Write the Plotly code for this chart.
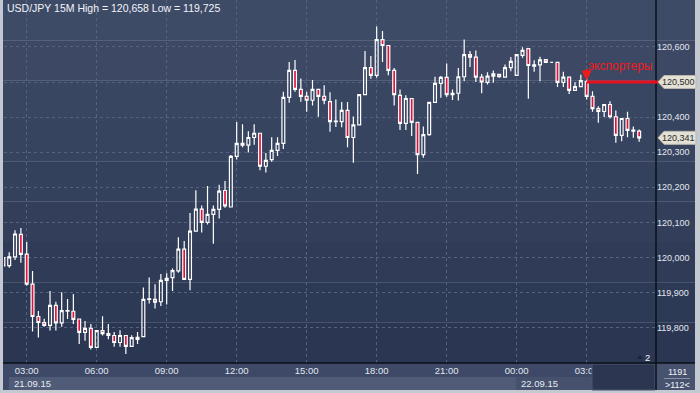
import pandas as pd
import plotly.graph_objects as go

# ---------------- data ----------------
start_time = "2015-09-21 02:00"
opens = [120.000,119.977,120.002,120.066,120.010,119.924,119.832,119.815,119.807,119.864,
         119.814,119.847,119.847,119.825,119.787,119.798,119.744,119.792,119.783,119.778,
         119.758,119.778,119.747,119.767,119.775,119.881,119.881,119.874,119.935,119.943,
         119.962,120.024,119.938,120.075,120.138,120.100,120.123,120.137,120.191,120.144,
         120.288,120.325,120.320,120.342,120.354,120.260,120.279,120.305,120.325,120.456,
         120.533,120.479,120.459,120.448,120.479,120.459,120.444,120.387,120.387,120.419,
         120.342,120.378,120.464,120.541,120.519,120.621,120.604,120.533,120.462,120.382,
         120.453,120.385,120.293,120.350,120.442,120.496,120.513,120.464,120.468,120.515,
         120.578,120.571,120.514,120.499,120.517,120.522,120.514,120.541,120.519,120.576,
         120.595,120.545,120.549,120.564,120.556,120.556,120.499,120.514,120.476,120.487,
         120.501,120.459,120.424,120.416,120.436,120.401,120.348,120.396,120.360,120.360]
highs = [120.003,120.015,120.078,120.084,120.044,119.962,119.848,119.826,119.905,119.874,
         119.901,119.882,119.896,119.826,119.819,119.811,119.792,119.833,119.811,119.788,
         119.793,119.779,119.779,119.788,119.915,119.943,119.924,119.953,119.955,119.969,
         120.058,120.047,120.127,120.192,120.148,120.204,120.148,120.207,120.218,120.292,
         120.386,120.380,120.360,120.380,120.355,120.298,120.343,120.343,120.472,120.557,
         120.563,120.510,120.472,120.506,120.480,120.491,120.471,120.450,120.443,120.443,
         120.402,120.465,120.588,120.574,120.658,120.645,120.605,120.540,120.479,120.462,
         120.454,120.385,120.373,120.442,120.515,120.517,120.553,120.479,120.540,120.621,
         120.588,120.590,120.523,120.528,120.533,120.523,120.550,120.571,120.578,120.599,
         120.596,120.562,120.572,120.564,120.556,120.556,120.529,120.514,120.499,120.521,
         120.517,120.474,120.431,120.436,120.445,120.419,120.396,120.415,120.373,120.365]
lows = [119.973,119.971,119.993,119.985,119.920,119.789,119.772,119.803,119.792,119.792,
        119.803,119.825,119.811,119.754,119.763,119.738,119.744,119.778,119.767,119.746,
        119.746,119.725,119.747,119.754,119.775,119.869,119.855,119.862,119.866,119.905,
        119.957,119.936,119.907,120.075,120.071,120.094,120.039,120.111,120.142,120.144,
        120.279,120.314,120.299,120.321,120.249,120.242,120.273,120.289,120.309,120.441,
        120.472,120.444,120.415,120.433,120.401,120.437,120.358,120.372,120.371,120.314,
        120.270,120.377,120.464,120.509,120.512,120.557,120.519,120.433,120.363,120.363,
        120.346,120.238,120.284,120.347,120.442,120.455,120.457,120.449,120.447,120.502,
        120.543,120.500,120.468,120.493,120.498,120.512,120.512,120.531,120.519,120.569,
        120.452,120.529,120.502,120.554,120.556,120.486,120.486,120.466,120.476,120.487,
        120.450,120.415,120.384,120.400,120.396,120.327,120.331,120.343,120.341,120.330]
closes = [119.976,120.002,120.067,120.009,119.924,119.832,119.815,119.807,119.864,119.814,
          119.849,119.849,119.824,119.787,119.798,119.744,119.792,119.783,119.778,119.758,
          119.778,119.747,119.772,119.773,119.881,119.882,119.873,119.935,119.941,119.963,
          120.024,119.938,120.075,120.138,120.100,120.123,120.137,120.189,120.147,120.288,
          120.325,120.320,120.342,120.354,120.260,120.277,120.305,120.325,120.456,120.533,
          120.479,120.459,120.448,120.479,120.459,120.448,120.387,120.389,120.419,120.342,
          120.378,120.464,120.541,120.519,120.621,120.604,120.533,120.464,120.382,120.453,
          120.385,120.293,120.350,120.442,120.496,120.513,120.464,120.468,120.515,120.578,
          120.571,120.514,120.500,120.517,120.523,120.515,120.541,120.559,120.578,120.590,
          120.547,120.549,120.563,120.556,120.556,120.499,120.514,120.476,120.487,120.504,
          120.459,120.424,120.416,120.436,120.401,120.348,120.396,120.362,120.363,120.341]
times = pd.date_range(start_time, periods=len(opens), freq="15min")

y_tick_vals = [119.8, 119.9, 120.0, 120.1, 120.2, 120.3, 120.4, 120.5, 120.6]
y_tick_text = ["119,800", "119,900", "120,000", "120,100", "120,200", "120,300",
               "120,400", "120,500", "120,600"]
x_tick_vals = ["2015-09-21 03:00", "2015-09-21 06:00", "2015-09-21 09:00", "2015-09-21 12:00",
               "2015-09-21 15:00", "2015-09-21 18:00", "2015-09-21 21:00", "2015-09-22 00:00",
               "2015-09-22 03:00"]
x_tick_text = ["03:00", "06:00", "09:00", "12:00", "15:00", "18:00", "21:00", "00:00", "03:00"]
date_labels = ["21.09.15", "22.09.15"]
title_text = "USD/JPY 15M High = 120,658 Low = 119,725"
level_price = 120.500
level_label = "экспортеры"
level_time = "2015-09-22 03:00"
last_price = 120.341
last_label = "120,341"
bar_count_text = "1191"
zoom_text = ">112<"

# ---------------- layout helpers ----------------
W, H = 700, 393
L, R, T, B = 4, 656, 0, 363
Y_RANGE = [119.6996, 120.7336]
FONT = "Liberation Sans"


def px(x):
    return (x - L) / (R - L)


def py(y):
    return (B - y) / (B - T)


ppu = (B - T) / (Y_RANGE[1] - Y_RANGE[0])  # pixels per price unit
shapes = []


def rect(x0, y0, x1, y1, color, layer="below", line=None):
    shapes.append(dict(type="rect", xref="paper", yref="paper", x0=px(x0), x1=px(x1),
                       y0=py(y1), y1=py(y0), fillcolor=color,
                       line=line or dict(width=0), layer=layer))


# gradient background (banded)
top_c = (62, 75, 103)
bot_c = (43, 55, 82)
nb = 9
for i in range(nb):
    t = i / (nb - 1)
    c = tuple(round(top_c[j] + (bot_c[j] - top_c[j]) * t) for j in range(3))
    rect(3, i * B / nb, 695, (i + 1) * B / nb, "rgb(%d,%d,%d)" % c)

# bottom axis area
rect(3, 363, 695, 390, "#3d4966")
rect(9, 377, 516, 390, "#4f5b77")
rect(516, 377, 592, 390, "#45516d")
rect(656, 363, 695, 390, "#46526e")
rect(592, 364, 655, 390, "#2c3650", layer="above",
     line=dict(color="#4a5672", width=1))
# separators
shapes.append(dict(type="line", xref="paper", yref="paper", x0=px(3), x1=px(695),
                   y0=py(363), y1=py(363), line=dict(color="#0b0f18", width=1.5), layer="above"))
shapes.append(dict(type="line", xref="paper", yref="paper", x0=px(656), x1=px(656),
                   y0=py(0), y1=py(390), line=dict(color="#0b0f18", width=1.5), layer="above"))
shapes.append(dict(type="line", xref="paper", yref="paper", x0=px(664), x1=px(690),
                   y0=py(378.5), y1=py(378.5), line=dict(color="#8891a5", width=1), layer="above"))
# small triangle near "2"
shapes.append(dict(type="path", xref="paper", yref="paper",
                   path="M %f,%f L %f,%f L %f,%f Z" % (px(637), py(359), px(643), py(359), px(640), py(355)),
                   fillcolor="#1e2638", line=dict(width=0), layer="above"))

# level line
x1_range = pd.Timestamp("2015-09-21 03:00") + pd.Timedelta(minutes=15 * (R - 26.7) / 5.833)
x0_range = pd.Timestamp("2015-09-21 03:00") - pd.Timedelta(minutes=15 * (26.7 - L) / 5.833)
shapes.append(dict(type="line", xref="x", yref="y", x0=level_time, x1=x1_range,
                   y0=level_price, y1=level_price, line=dict(color="#e8101e", width=3),
                   layer="above"))
shapes.append(dict(type="line", xref="paper", yref="y", x0=px(654), x1=px(661),
                   y0=level_price, y1=level_price, line=dict(color="#e8101e", width=3),
                   layer="above"))

annotations = []
# price tags
for p, txt in [(level_price, y_tick_text[y_tick_vals.index(level_price)]), (last_price, last_label)]:
    h = 6.5 / ppu
    path = "M %f,%f L %f,%f L %f,%f L %f,%f L %f,%f Z" % (
        px(658), p, px(664), p + h, px(696), p + h, px(696), p - h, px(664), p - h)
    shapes.append(dict(type="path", xref="paper", yref="y", path=path,
                       fillcolor="#e3e1d5", line=dict(color="#b9b7ab", width=1), layer="above"))
    annotations.append(dict(xref="paper", yref="y", x=px(661), y=p, text=txt, showarrow=False,
                            xanchor="left", yanchor="middle", borderpad=0,
                            font=dict(family=FONT, size=9, color="#2a2a2a")))

# axis tick text: the 120,500 label is shown inside its tag instead
axis_tick_text = [" " if v == level_price else s for v, s in zip(y_tick_vals, y_tick_text)]

# title
annotations.append(dict(xref="paper", yref="paper", x=px(5), y=py(8), text=title_text,
                        showarrow=False, xanchor="left", yanchor="middle",
                        font=dict(family=FONT, size=10.5, color="#f2f4f8")))
# date strip labels
annotations.append(dict(xref="paper", yref="paper", x=px(12), y=py(383.5), text=date_labels[0],
                        showarrow=False, xanchor="left", yanchor="middle",
                        font=dict(family=FONT, size=9.5, color="#e8ecf3")))
annotations.append(dict(xref="paper", yref="paper", x=px(519), y=py(383.5), text=date_labels[1],
                        showarrow=False, xanchor="left", yanchor="middle",
                        font=dict(family=FONT, size=9.5, color="#e8ecf3")))
# right bottom box
annotations.append(dict(xref="paper", yref="paper", x=px(677), y=py(371.5), text=bar_count_text,
                        showarrow=False, xanchor="center", yanchor="middle",
                        font=dict(family=FONT, size=9, color="#f2f4f8")))
annotations.append(dict(xref="paper", yref="paper", x=px(677), y=py(385),
                        text=zoom_text.replace(">", "&gt;").replace("<", "&lt;"),
                        showarrow=False, xanchor="center", yanchor="middle",
                        font=dict(family=FONT, size=9, color="#f2f4f8")))
annotations.append(dict(xref="paper", yref="paper", x=px(647), y=py(357), text="2",
                        showarrow=False, xanchor="center", yanchor="middle",
                        font=dict(family=FONT, size=9.5, color="#f2f4f8")))
# level arrow + label
annotations.append(dict(xref="x", yref="y", x=level_time, y=level_price + 1.5 / ppu, text="",
                        showarrow=True, arrowhead=2, arrowsize=1, arrowwidth=2,
                        arrowcolor="#f01a1a", ax=0, ay=-13))
annotations.append(dict(xref="x", yref="y", x=level_time, y=level_price + 16.5 / ppu,
                        text=level_label, showarrow=False, xanchor="left", yanchor="middle",
                        xshift=-1,
                        font=dict(family=FONT, size=12, color="#f01a1a")))

fig = go.Figure(go.Candlestick(
    x=times, open=opens, high=highs, low=lows, close=closes,
    increasing=dict(line=dict(color="#ffffff", width=1.2), fillcolor="rgba(0,0,0,0)"),
    decreasing=dict(line=dict(color="#ffffff", width=1.2), fillcolor="#e0103c"),
    whiskerwidth=0, showlegend=False, hoverinfo="skip"))

fig.update_layout(
    width=W, height=H,
    margin=dict(l=L, r=W - R, t=T, b=H - B),
    paper_bgcolor="#c3c8d1",
    plot_bgcolor="rgba(0,0,0,0)",
    shapes=shapes,
    annotations=annotations,
    xaxis=dict(type="date", range=[x0_range, x1_range], rangeslider=dict(visible=False),
               tickvals=x_tick_vals, ticktext=x_tick_text, showgrid=True,
               gridcolor="#56637f", griddash="3px,3px", gridwidth=1,
               ticks="", showline=False, zeroline=False, automargin=False,
               tickfont=dict(family=FONT, size=9.5, color="#e2e7f0")),
    yaxis=dict(range=Y_RANGE, side="right", tickvals=y_tick_vals,
               ticktext=axis_tick_text, showgrid=True, gridcolor="#56637f",
               griddash="3px,3px", gridwidth=1, ticks="", showline=False, zeroline=False,
               automargin=False,
               tickfont=dict(family=FONT, size=9, color="#e2e7f0")),
)
fig.write_html("out.html", config={"displayModeBar": False},
               post_script="document.body.style.margin='0px';document.body.style.overflow='hidden';")
